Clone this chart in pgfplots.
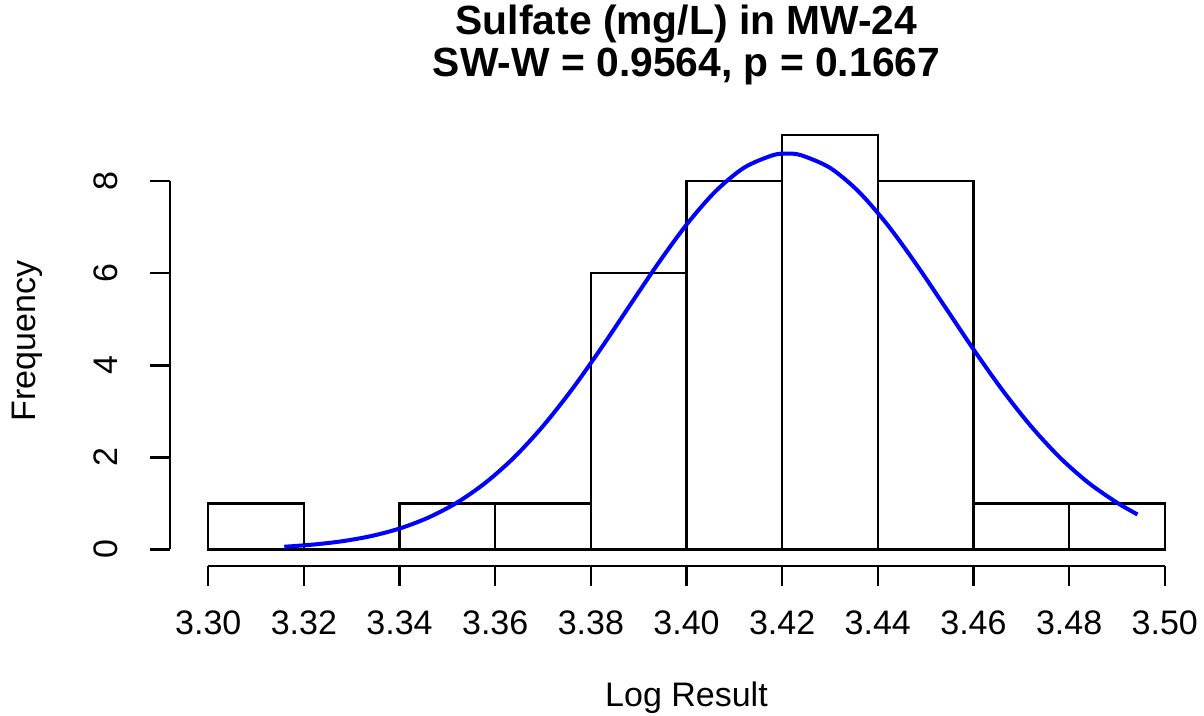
\documentclass[border=0pt]{standalone}
\usepackage{fontspec}
\setmainfont{Liberation Sans}
\usepackage{pgfplots}
\pgfplotsset{compat=1.18}
\pgfplotstableread{
x y
3.30 1
3.32 0
3.34 1
3.36 1
3.38 6
3.40 8
3.42 9
3.44 8
3.46 1
3.48 1
3.50 1
}\histdata
\pgfplotstableread{
x y
3.3159 0.058
3.322 0.106
3.328 0.178
3.334 0.289
3.340 0.454
3.346 0.691
3.352 1.017
3.358 1.452
3.364 2.004
3.370 2.681
3.376 3.470
3.382 4.349
3.388 5.279
3.394 6.203
3.400 7.057
3.406 7.775
3.412 8.293
3.418 8.565
3.421 8.600
3.424 8.565
3.430 8.293
3.436 7.775
3.442 7.057
3.448 6.203
3.454 5.279
3.460 4.349
3.466 3.470
3.472 2.681
3.478 2.004
3.484 1.452
3.490 1.017
3.4943 0.760
}\curvedata
\begin{document}
\begin{tikzpicture}
\useasboundingbox (-85pt,-75pt) rectangle (517pt,283pt);
\begin{axis}[
  at={(0,0)}, anchor=south west,
  scale only axis, width=516.5pt, height=223.65pt,
  xmin=3.292, xmax=3.508, ymin=-0.36, ymax=9.36,
  axis x line*=bottom, axis y line*=left,
  axis line style={draw=none},
  clip=false,
  tick align=outside,
  major tick length=10pt,
  tick style={black, line width=1.15pt},
  xtick={3.30,3.32,3.34,3.36,3.38,3.40,3.42,3.44,3.46,3.48,3.50},
  xticklabels={3.30,3.32,3.34,3.36,3.38,3.40,3.42,3.44,3.46,3.48,3.50},
  ytick={0,2,4,6,8},
  yticklabels={0,2,4,6,8},
  /pgf/number format/assume math mode=true,
  xticklabel style={font=\fontsize{17}{20}\selectfont, anchor=north, yshift=-9pt},
  yticklabel style={font=\fontsize{17}{20}\selectfont, xshift=-12.5pt, rotate=90, anchor=south},
]
\addplot[ybar interval, fill=white, draw=black, line width=1.15pt] table[x=x,y=y] {\histdata};
\addplot[blue, line width=2pt, smooth] table[x=x,y=y] {\curvedata};
\addplot[black, line width=1.15pt] coordinates {(3.30,-0.36) (3.50,-0.36)};
\addplot[black, line width=1.15pt] coordinates {(3.292,0) (3.292,8)};
\end{axis}
\node[anchor=base] at (258.25pt,265.5pt) {\fontsize{20.4}{24}\selectfont\bfseries Sulfate (mg/L) in MW-24};
\node[anchor=base] at (258.25pt,244.5pt) {\fontsize{20.4}{24}\selectfont\bfseries SW-W = 0.9564, p = 0.1667};
\node[anchor=base] at (258.25pt,-70.5pt) {\fontsize{17}{20}\selectfont Log Result};
\node[rotate=90] at (-71.5pt,112.5pt) {\fontsize{17}{20}\selectfont Frequency};
\end{tikzpicture}
\end{document}
